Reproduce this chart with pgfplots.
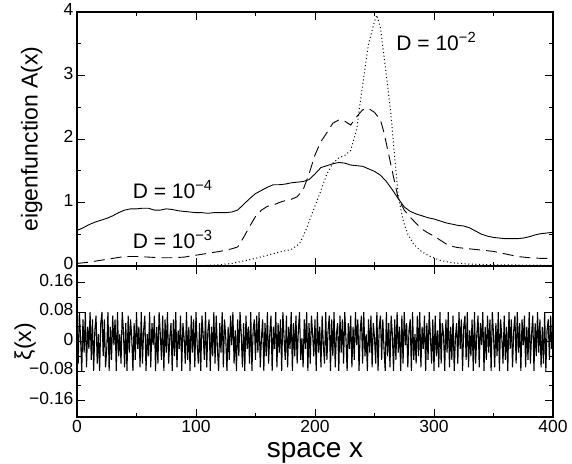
\documentclass[border=0pt]{standalone}
\usepackage{fontspec}
\setmainfont{Liberation Sans}
\usepackage{pgfplots}
\pgfplotsset{compat=1.18}

\pgfplotsset{
  panel/.style={
    scale only axis,
    width=476pt,
    xmin=0, xmax=400,
    xtick={0,100,...,400},
    minor x tick num=1,
    minor y tick num=1,
    tick align=inside,
    major tick length=8pt,
    minor tick length=4pt,
    every tick/.style={black, line width=0.9pt},
    axis line style={line width=1.1pt},
    tick label style={font=\fontsize{17.5}{20}\selectfont},
    yticklabel style={inner ysep=0pt, text height=0.72em, text depth=0pt},
    /pgf/number format/assume math mode=true,
    label style={font=\fontsize{23}{26}\selectfont},
  },
}

\begin{document}
\begin{tikzpicture}
\begin{axis}[
  panel,
  name=top,
  height=254pt,
  ymin=0, ymax=4,
  ytick={0,1,2,3,4},
  xticklabels={},
  ylabel={eigenfunction A(x)},
  ylabel style={at={(axis description cs:-0.095,0.5)}, anchor=center},
]
% D = 1e-4
\addplot[black, line width=0.9pt] coordinates {
(0,0.56)(5,0.6)(10,0.65)(15,0.69)(20,0.72)(25,0.75)(30,0.79)(35,0.84)(40,0.88)(45,0.9)
(50,0.9)(55,0.91)(60,0.91)(65,0.88)(70,0.88)(75,0.9)(80,0.89)(85,0.87)(90,0.86)(95,0.85)
(100,0.84)(105,0.84)(110,0.83)(115,0.84)(120,0.84)(125,0.84)(130,0.85)(135,0.88)(140,0.97)
(145,1.06)(150,1.14)(155,1.19)(160,1.24)(165,1.28)(170,1.28)(175,1.29)(180,1.31)(185,1.32)
(190,1.33)(195,1.36)(200,1.45)(205,1.55)(210,1.58)(215,1.61)(220,1.63)(225,1.62)(230,1.59)
(235,1.58)(240,1.57)(245,1.53)(250,1.49)(255,1.43)(260,1.33)(265,1.2)(270,1.06)(275,0.93)
(280,0.86)(285,0.82)(290,0.79)(295,0.76)(300,0.74)(305,0.71)(310,0.68)(315,0.66)(320,0.64)
(325,0.63)(330,0.6)(335,0.55)(340,0.5)(345,0.47)(350,0.45)(355,0.44)(360,0.43)(365,0.43)
(370,0.43)(375,0.44)(380,0.46)(385,0.49)(390,0.51)(395,0.52)(400,0.53)
};
% D = 1e-3
\addplot[black, line width=0.9pt, dash pattern=on 11pt off 6pt] coordinates {
(0,0.04)(10,0.06)(20,0.09)(30,0.12)(40,0.15)(50,0.15)(60,0.14)(70,0.13)(80,0.13)(90,0.14)
(100,0.17)(110,0.2)(120,0.23)(130,0.27)(135,0.3)(140,0.45)(145,0.62)(150,0.78)(155,0.88)
(160,0.94)(165,0.96)(170,1.0)(175,1.03)(180,1.05)(185,1.09)(190,1.2)(195,1.45)(200,1.75)
(205,1.96)(210,2.1)(215,2.25)(220,2.3)(225,2.28)(230,2.22)(235,2.35)(240,2.46)(245,2.48)
(250,2.42)(255,2.3)(258,2.1)(262,1.75)(266,1.4)(270,1.06)(275,0.88)(280,0.77)(285,0.67)
(290,0.58)(295,0.52)(300,0.47)(305,0.41)(310,0.35)(315,0.31)(320,0.29)(330,0.27)(340,0.25)
(350,0.23)(360,0.19)(370,0.15)(380,0.13)(390,0.12)(400,0.12)
};
% D = 1e-2
\addplot[black, line width=1pt, dash pattern=on 1pt off 2.6pt] coordinates {
(0,0.0)(100,0.0)(110,0.01)(120,0.02)(130,0.04)(140,0.08)(150,0.12)(160,0.17)(170,0.22)
(180,0.26)(187,0.35)(192,0.55)(197,0.8)(204,1.14)(210,1.45)(215,1.62)(220,1.7)(225,1.74)
(230,1.82)(235,2.15)(240,2.85)(245,3.5)(250,3.85)(252,3.95)(255,3.75)(258,3.3)(261,2.85)
(264,2.35)(267,1.7)(270,1.1)(274,0.72)(278,0.5)(283,0.34)(290,0.22)(297,0.15)(305,0.09)
(315,0.05)(330,0.03)(350,0.02)(400,0.01)
};
\node[anchor=base west, font=\fontsize{21}{24}\selectfont] at (axis cs:44,1.07) {D = 10\textsuperscript{−4}};
\node[anchor=base west, font=\fontsize{21}{24}\selectfont] at (axis cs:44,0.28) {D = 10\textsuperscript{−3}};
\node[anchor=base west, font=\fontsize{21}{24}\selectfont] at (axis cs:265.5,3.4) {D = 10\textsuperscript{−2}};
\end{axis}

\begin{axis}[
  panel,
  at={(top.south west)}, anchor=north west,
  height=151pt,
  ymin=-0.205, ymax=0.205,
  ytick={-0.16,-0.08,0,0.08,0.16},
  yticklabels={−0.16,−0.08,0,0.08,0.16},
  xlabel={space x},
  xlabel style={at={(axis description cs:0.5,-0.27)}, anchor=base, text height=0.55em, font=\fontsize{28}{30}\selectfont},
  ylabel={ξ(x)},
  ylabel style={at={(axis description cs:-0.109,0.5)}, anchor=center},
]
\addplot[black, line width=1.1pt] coordinates {
(0,0.07)(1,-0.06)(2,0.08)(3,0.01)(4,-0.08)(5,0.06)(6,-0.03)(7,0.08)(8,-0.07)(9,0.04)
(10,-0.02)(11,0.08)(12,-0.05)(13,0.06)(14,-0.08)(15,0.03)(16,0.07)(17,-0.06)(18,0.02)(19,-0.08)
(20,0.05)(21,0.08)(22,-0.04)(23,0.06)(24,-0.07)(25,-0.02)(26,0.08)(27,-0.08)(28,0.04)(29,-0.05)
(30,0.07)(31,-0.01)(32,0.06)(33,-0.08)(34,0.08)(35,-0.04)(36,0.02)(37,-0.06)(38,0.08)(39,0.03)
(40,-0.07)(41,0.05)(42,-0.08)(43,0.07)(44,-0.03)(45,0.06)(46,0.01)(47,-0.08)(48,0.05)(49,-0.05)
(50,0.08)(51,-0.02)(52,0.04)(53,-0.07)(54,0.08)(55,-0.06)(56,0.03)(57,0.07)(58,-0.08)(59,0.02)
(60,-0.04)(61,0.08)(62,-0.07)(63,0.05)(64,-0.01)(65,0.07)(66,-0.08)(67,0.04)(68,-0.06)(69,0.08)
(70,0.02)(71,-0.05)(72,0.07)(73,-0.08)(74,0.06)(75,-0.03)(76,0.08)(77,-0.06)(78,0.01)(79,0.05)
(80,-0.08)(81,0.06)(82,-0.04)(83,0.08)(84,-0.07)(85,0.03)(86,-0.02)(87,0.07)(88,-0.08)(89,0.05)
(90,0.01)(91,-0.06)(92,0.08)(93,-0.05)(94,0.04)(95,-0.08)(96,0.07)(97,-0.03)(98,0.06)(99,-0.07)
(100,0.08)(101,-0.01)(102,-0.06)(103,0.05)(104,-0.08)(105,0.07)(106,0.02)(107,-0.05)(108,0.08)(109,-0.07)
(110,0.03)(111,0.06)(112,-0.08)(113,0.04)(114,-0.04)(115,0.08)(116,-0.06)(117,0.07)(118,-0.02)(119,-0.08)
(120,0.05)(121,-0.03)(122,0.08)(123,-0.07)(124,0.06)(125,0.01)(126,-0.08)(127,0.04)(128,-0.05)(129,0.07)
(130,-0.01)(131,0.08)(132,-0.06)(133,0.03)(134,-0.08)(135,0.06)(136,-0.04)(137,0.08)(138,0.02)(139,-0.07)
(140,0.05)(141,-0.08)(142,0.07)(143,-0.02)(144,0.04)(145,-0.06)(146,0.08)(147,-0.08)(148,0.03)(149,0.06)
(150,-0.05)(151,0.07)(152,-0.03)(153,0.08)(154,-0.07)(155,0.01)(156,0.06)(157,-0.08)(158,0.05)(159,-0.04)
(160,0.08)(161,-0.06)(162,0.02)(163,0.07)(164,-0.08)(165,0.04)(166,-0.02)(167,0.08)(168,-0.07)(169,0.05)
(170,-0.03)(171,0.06)(172,-0.08)(173,0.08)(174,0.01)(175,-0.05)(176,0.07)(177,-0.07)(178,0.04)(179,-0.02)
(180,0.08)(181,-0.08)(182,0.05)(183,-0.04)(184,0.07)(185,-0.06)(186,0.03)(187,0.08)(188,-0.05)(189,0.01)
(190,-0.07)(191,0.06)(192,-0.02)(193,0.08)(194,-0.08)(195,0.05)(196,-0.06)(197,0.07)(198,0.02)(199,-0.04)
(200,0.06)(201,-0.08)(202,0.08)(203,-0.03)(204,0.04)(205,-0.07)(206,0.07)(207,-0.01)(208,-0.06)(209,0.08)
(210,-0.05)(211,0.03)(212,0.07)(213,-0.08)(214,0.06)(215,-0.04)(216,0.08)(217,-0.07)(218,0.02)(219,0.05)
(220,-0.08)(221,0.07)(222,-0.03)(223,0.06)(224,-0.06)(225,0.08)(226,0.01)(227,-0.08)(228,0.05)(229,-0.02)
(230,0.07)(231,-0.07)(232,0.04)(233,-0.05)(234,0.08)(235,-0.01)(236,0.06)(237,-0.08)(238,0.03)(239,0.07)
(240,-0.06)(241,0.08)(242,-0.04)(243,0.02)(244,-0.08)(245,0.06)(246,-0.03)(247,0.07)(248,-0.07)(249,0.05)
(250,0.01)(251,-0.06)(252,0.08)(253,-0.08)(254,0.04)(255,0.07)(256,-0.05)(257,0.06)(258,-0.02)(259,-0.08)
(260,0.08)(261,-0.04)(262,0.05)(263,-0.07)(264,0.07)(265,0.02)(266,-0.08)(267,0.06)(268,-0.05)(269,0.08)
(270,-0.03)(271,0.04)(272,-0.08)(273,0.07)(274,-0.06)(275,0.08)(276,-0.01)(277,0.05)(278,-0.07)(279,0.03)
(280,0.06)(281,-0.08)(282,0.08)(283,-0.05)(284,0.02)(285,-0.06)(286,0.07)(287,-0.04)(288,0.08)(289,-0.07)
(290,0.04)(291,-0.02)(292,0.07)(293,-0.08)(294,0.05)(295,-0.05)(296,0.08)(297,0.01)(298,-0.06)(299,0.06)
(300,-0.08)(301,0.07)(302,-0.04)(303,0.03)(304,-0.07)(305,0.08)(306,-0.06)(307,0.05)(308,0.02)(309,-0.08)
(310,0.06)(311,-0.03)(312,0.08)(313,-0.07)(314,0.04)(315,-0.05)(316,0.07)(317,-0.08)(318,0.01)(319,0.05)
(320,-0.06)(321,0.08)(322,-0.02)(323,0.06)(324,-0.08)(325,0.04)(326,0.07)(327,-0.05)(328,0.08)(329,-0.07)
(330,0.03)(331,-0.04)(332,0.06)(333,-0.08)(334,0.08)(335,-0.06)(336,0.02)(337,0.07)(338,-0.07)(339,0.05)
(340,-0.01)(341,0.08)(342,-0.08)(343,0.04)(344,-0.05)(345,0.07)(346,-0.03)(347,0.06)(348,-0.08)(349,0.08)
(350,0.02)(351,-0.07)(352,0.05)(353,-0.04)(354,0.08)(355,-0.08)(356,0.06)(357,0.01)(358,-0.06)(359,0.07)
(360,-0.05)(361,0.04)(362,-0.08)(363,0.08)(364,-0.02)(365,0.06)(366,-0.07)(367,0.03)(368,0.07)(369,-0.06)
(370,0.08)(371,-0.03)(372,0.05)(373,-0.08)(374,0.06)(375,-0.01)(376,0.07)(377,-0.07)(378,0.04)(379,-0.05)
(380,0.08)(381,-0.06)(382,0.02)(383,0.07)(384,-0.08)(385,0.05)(386,-0.04)(387,0.08)(388,-0.03)(389,0.06)
(390,-0.07)(391,0.04)(392,-0.06)(393,0.08)(394,-0.08)(395,0.03)(396,0.06)(397,-0.05)(398,0.07)(399,-0.02)
(400,0.05)
};
\end{axis}
\pgfresetboundingbox
\path[use as bounding box] (top.north west) ++(-77pt,12pt) rectangle ++(572pt,-463pt);
\end{tikzpicture}
\end{document}
